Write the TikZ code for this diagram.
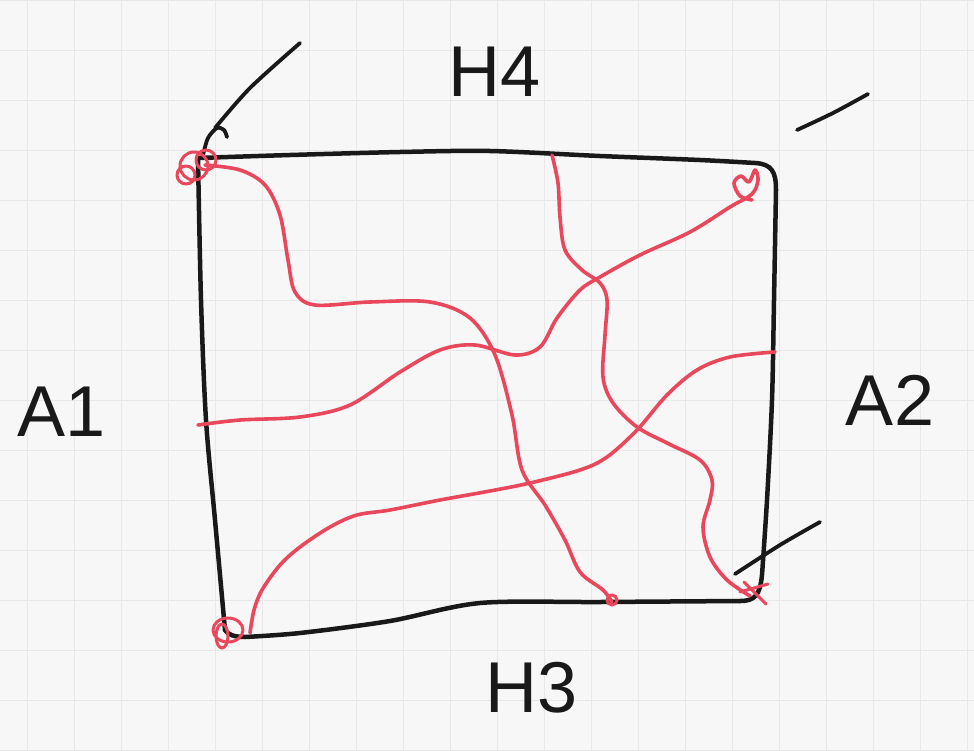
\documentclass[tikz,border=0pt]{standalone}
\usepackage{fontspec}
\setmainfont{Liberation Sans}
\definecolor{penred}{HTML}{E8475C}
\definecolor{paper}{HTML}{F7F7F7}
\definecolor{gridc}{HTML}{E8E8E8}
\tikzset{
  blk/.style={draw=black!90, line width=4.5pt, line cap=round, line join=round},
  redpen/.style={draw=penred, line width=3.6pt, line cap=round, line join=round},
  lbl/.style={font=\fontsize{72}{72}\selectfont, text=black!90, inner sep=0pt}
}
\begin{document}
\begin{tikzpicture}[x=1pt,y=-1pt]
\useasboundingbox (0,0) rectangle (974,750);
\fill[paper] (0,0) rectangle (974,750);
% graph paper
\foreach \gx in {27,74,...,974} \draw[gridc, line width=0.9pt] (\gx,0) -- (\gx,750);
\foreach \gy in {0,50,...,750} \draw[gridc, line width=0.9pt] (0,\gy) -- (974,\gy);
% black frame
\draw[blk] plot[smooth, tension=0.5] coordinates {(198,158) (290,155) (400,152) (490,151) (600,156) (700,160) (755,163)}
  .. controls (772,164) and (776,172) .. (776,190);
\draw[blk] plot[smooth, tension=0.5] coordinates {(776,190) (774,300) (772,400) (767,500) (762,575)}
  .. controls (760,595) and (755,601) .. (740,601);
\draw[blk] plot[smooth, tension=0.5] coordinates {(740,601) (600,602) (480,603) (390,621) (300,633) (245,637)}
  .. controls (235,637) and (228,635) .. (225,630);
\draw[blk] plot[smooth, tension=0.5] coordinates {(225,630) (215,520) (206,420) (201,300) (198,158)};
% black ticks
\draw[blk, line width=3.8pt] plot[smooth] coordinates {(203,155) (208,138) (217,128) (224,130) (227,137)};
\draw[blk, line width=3.8pt] plot[smooth] coordinates {(215,128) (250,88) (300,43)};
\draw[blk, line width=3.8pt] plot[smooth] coordinates {(797,130) (833,113) (868,94)};
\draw[blk, line width=3.8pt] plot[smooth] coordinates {(735,574) (780,545) (820,522)};
% red curves
\draw[redpen] plot[smooth, tension=0.55] coordinates {(205,165) (240,170) (265,185) (280,215) (288,260) (295,292) (315,305) (370,302) (430,302) (470,318) (495,355) (512,415) (522,470) (545,505) (565,540) (580,572) (603,590) (612,602)};
\draw[redpen, line width=3pt] (612,600) circle (5);
\draw[redpen] plot[smooth, tension=0.55] coordinates {(198,425) (240,420) (300,417) (350,405) (400,372) (440,350) (475,345) (515,355) (540,347) (557,318) (580,290) (600,277) (640,255) (690,232) (730,207) (752,194) (758,180) (755,170) (749,182) (741,176) (734,183) (740,196) (752,200)};
\draw[redpen] plot[smooth, tension=0.55] coordinates {(552,155) (558,183) (560,217) (565,250) (582,270) (600,283) (607,300) (605,335) (603,377) (613,403) (637,427) (667,443) (700,460) (712,480) (710,500) (703,527) (710,557) (727,580) (750,596)};
\draw[redpen, line width=3pt] (744,582) -- (766,604);
\draw[redpen, line width=3pt] (740,592) -- (768,584);
\draw[redpen] plot[smooth, tension=0.55] coordinates {(250,633) (254,610) (262,590) (280,565) (300,547) (330,527) (357,515) (390,510) (440,500) (490,491) (530,483) (580,470) (607,457) (637,430) (667,395) (697,370) (730,357) (775,352)};
% corner knots
\draw[redpen, line width=3pt] (228,630) ellipse (15 and 12);
\draw[redpen, line width=3pt] (222,636) ellipse (6 and 12);
\draw[redpen, line width=3pt] (194,166) circle (14);
\draw[redpen, line width=3pt] (206,160) circle (10);
\draw[redpen, line width=3pt] (186,175) circle (9);
% labels
\node[lbl] (a1) at (62,412) {A1};
\node[lbl] (a2) at (890,400) {A2};
\node[lbl] (h3) at (532,688) {H3};
\node[lbl] (h4) at (495,72) {H4};
\end{tikzpicture}
\end{document}
